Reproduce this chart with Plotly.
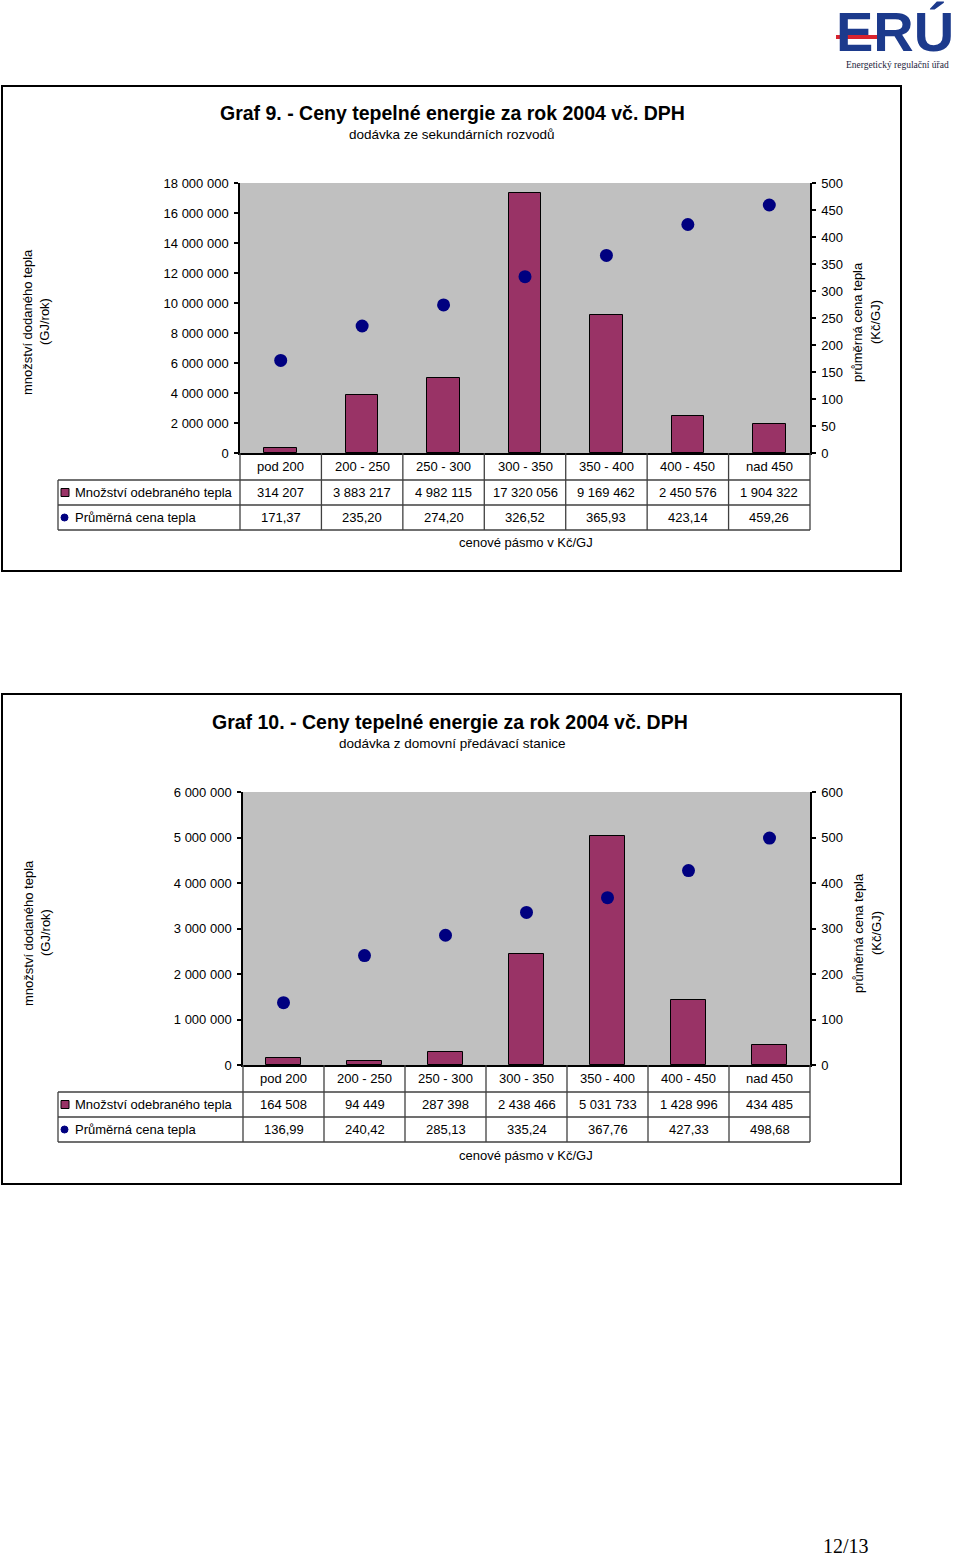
import plotly.graph_objects as go

# ---------------- data ----------------
categories = ["pod 200", "200 - 250", "250 - 300", "300 - 350", "350 - 400", "400 - 450", "nad 450"]
qty_g9 = [314207, 3883217, 4982115, 17320056, 9169462, 2450576, 1904322]
price_g9 = [171.37, 235.20, 274.20, 326.52, 365.93, 423.14, 459.26]
qty_g10 = [164508, 94449, 287398, 2438466, 5031733, 1428996, 434485]
price_g10 = [136.99, 240.42, 285.13, 335.24, 367.76, 427.33, 498.68]

title_g9 = "Graf 9. - Ceny tepelné energie za rok 2004 vč. DPH"
sub_g9 = "dodávka ze sekundárních rozvodů"
title_g10 = "Graf 10. - Ceny tepelné energie za rok 2004 vč. DPH"
sub_g10 = "dodávka z domovní předávací stanice"
row_qty = "Množství odebraného tepla"
row_price = "Průměrná cena tepla"
xlab = "cenové pásmo v Kč/GJ"
ylab_left = ["množství dodaného tepla", "(GJ/rok)"]
ylab_right = ["průměrná cena tepla", "(Kč/GJ)"]

W, H = 960, 1560
FONT = "Liberation Sans, Arial, sans-serif"
BAR = "#993366"
DOT = "#000080"
GRID = "#404040"


def px(x):
    return x / W


def py(y):
    return 1 - y / H


def fmt_int(v):
    return f"{v:,}".replace(",", " ")


def fmt_dec(v):
    return f"{v:.2f}".replace(".", ",")


fig = go.Figure()
shapes = []
ann = []

charts = [
    dict(qty=qty_g9, price=price_g9, title=title_g9, sub=sub_g9, xa="x", ya="y", ya2="y2",
         box=(2, 86, 901, 571), plot=(240, 183, 810, 453), ymax=18000000, ydt=2000000,
         y2max=500, y2dt=50, rows=(453, 480, 505, 530), title_y=113, sub_y=134, xl_y=542,
         title_x=452, ylab_y=322, bw=0.40),
    dict(qty=qty_g10, price=price_g10, title=title_g10, sub=sub_g10, xa="x2", ya="y3", ya2="y4",
         box=(2, 694, 901, 1184), plot=(243, 792, 810, 1065), ymax=6000000, ydt=1000000,
         y2max=600, y2dt=100, rows=(1065, 1092, 1117, 1142), title_y=722, sub_y=743, xl_y=1155,
         title_x=450, ylab_y=933, bw=0.42),
]

layout_axes = {}
for i, c in enumerate(charts):
    xa, ya, ya2 = c["xa"], c["ya"], c["ya2"]
    fig.add_trace(go.Bar(x=categories, y=c["qty"], xaxis=xa, yaxis=ya, width=c["bw"],
                         marker=dict(color=BAR, line=dict(color="black", width=1)),
                         showlegend=False))
    fig.add_trace(go.Scatter(x=categories, y=c["price"], xaxis=xa, yaxis=ya2, mode="markers",
                             marker=dict(color=DOT, size=13), showlegend=False))
    x0, y0, x1, y1 = c["plot"]
    xname = "xaxis" if xa == "x" else "xaxis" + xa[1:]
    yname = "yaxis" if ya == "y" else "yaxis" + ya[1:]
    y2name = "yaxis" + ya2[1:]
    layout_axes[xname] = dict(domain=[px(x0), px(x1)], anchor=ya, type="category",
                              range=[-0.5, 6.5], showticklabels=False, ticks="",
                              showline=True, linecolor="black", linewidth=1.5, showgrid=False,
                              zeroline=False, fixedrange=True, automargin=False)
    layout_axes[yname] = dict(domain=[py(y1), py(y0)], anchor=xa, range=[0, c["ymax"]],
                              dtick=c["ydt"], tick0=0, tickformat=",d", showgrid=False,
                              zeroline=False, showline=True, linecolor="black", linewidth=1.5,
                              ticks="outside", ticklen=4, tickwidth=1.5, tickcolor="black",
                              ticklabelstandoff=3, automargin=False,
                              tickfont=dict(family=FONT, size=13, color="black"))
    layout_axes[y2name] = dict(domain=[py(y1), py(y0)], anchor=xa, overlaying=ya, side="right",
                               range=[0, c["y2max"]], dtick=c["y2dt"], tick0=0, showgrid=False,
                               zeroline=False, showline=True, linecolor="black", linewidth=1.5,
                               ticks="outside", ticklen=4, tickwidth=1.5, tickcolor="black",
                               ticklabelstandoff=3, automargin=False,
                               tickfont=dict(family=FONT, size=13, color="black"))
    # gray plot background
    shapes.append(dict(type="rect", xref="paper", yref="paper", x0=px(x0), x1=px(x1),
                       y0=py(y1), y1=py(y0), fillcolor="#C0C0C0", line=dict(width=0),
                       layer="below"))
    # outer chart border
    bx0, by0, bx1, by1 = c["box"]
    shapes.append(dict(type="rect", xref="paper", yref="paper", x0=px(bx0), x1=px(bx1),
                       y0=py(by1), y1=py(by0), line=dict(color="black", width=2)))
    # data table grid
    r0, r1, r2, r3 = c["rows"]
    cw = (x1 - x0) / len(categories)
    for k in range(len(categories) + 1):
        xx = x0 + k * cw
        shapes.append(dict(type="line", xref="paper", yref="paper", x0=px(xx), x1=px(xx),
                           y0=py(r0), y1=py(r3), line=dict(color=GRID, width=1.3)))
    for yy in (r1, r2, r3):
        shapes.append(dict(type="line", xref="paper", yref="paper", x0=px(58), x1=px(x1),
                           y0=py(yy), y1=py(yy), line=dict(color=GRID, width=1.3)))
    shapes.append(dict(type="line", xref="paper", yref="paper", x0=px(58), x1=px(58),
                       y0=py(r1), y1=py(r3), line=dict(color=GRID, width=1.3)))
    # legend keys
    m1 = (r1 + r2) / 2
    m2 = (r2 + r3) / 2
    shapes.append(dict(type="rect", xref="paper", yref="paper", x0=px(61), x1=px(69),
                       y0=py(m1 + 4), y1=py(m1 - 4), fillcolor=BAR,
                       line=dict(color="black", width=1)))
    shapes.append(dict(type="circle", xref="paper", yref="paper", x0=px(61), x1=px(68),
                       y0=py(m2 + 3.5), y1=py(m2 - 3.5), fillcolor=DOT,
                       line=dict(color=DOT, width=1)))
    tf = dict(family=FONT, size=13, color="black")
    ann.append(dict(x=px(73), y=py(m1), xref="paper", yref="paper", text=row_qty,
                    xanchor="left", yanchor="middle", showarrow=False, font=tf))
    ann.append(dict(x=px(73), y=py(m2), xref="paper", yref="paper", text=row_price,
                    xanchor="left", yanchor="middle", showarrow=False, font=tf))
    for cat, q, p in zip(categories, c["qty"], c["price"]):
        ann.append(dict(x=cat, xref=xa, y=py((r0 + r1) / 2), yref="paper", text=cat,
                        showarrow=False, yanchor="middle", font=tf))
        ann.append(dict(x=cat, xref=xa, y=py(m1), yref="paper", text=fmt_int(q),
                        showarrow=False, yanchor="middle", font=tf))
        ann.append(dict(x=cat, xref=xa, y=py(m2), yref="paper", text=fmt_dec(p),
                        showarrow=False, yanchor="middle", font=tf))
    # titles
    ann.append(dict(x=px(c["title_x"]), y=py(c["title_y"]), xref="paper", yref="paper",
                    text="<b>" + c["title"] + "</b>", showarrow=False, yanchor="middle",
                    font=dict(family=FONT, size=19.5, color="black")))
    ann.append(dict(x=px(452), y=py(c["sub_y"]), xref="paper", yref="paper",
                    text=c["sub"], showarrow=False, yanchor="middle",
                    font=dict(family=FONT, size=13.5, color="black")))
    ann.append(dict(x=px(526), y=py(c["xl_y"]), xref="paper", yref="paper",
                    text=xlab, showarrow=False, yanchor="middle", font=tf))
    # axis titles
    for txt, xx in zip(ylab_left, (28, 45)):
        ann.append(dict(x=px(xx), y=py(c["ylab_y"]), xref="paper", yref="paper", text=txt,
                        textangle=-90, showarrow=False, xanchor="center", yanchor="middle",
                        font=tf))
    for txt, xx in zip(ylab_right, (858, 876)):
        ann.append(dict(x=px(xx), y=py(c["ylab_y"]), xref="paper", yref="paper", text=txt,
                        textangle=-90, showarrow=False, xanchor="center", yanchor="middle",
                        font=tf))

# logo
ann.append(dict(x=px(895), y=py(31), xref="paper", yref="paper", text="<b>ERÚ</b>",
                showarrow=False, xanchor="center", yanchor="middle",
                font=dict(family="Liberation Sans, Arial", size=56, color="#1C3A8C")))
shapes.append(dict(type="line", xref="paper", yref="paper", x0=px(836), x1=px(878),
                   y0=py(37), y1=py(37), line=dict(color="#D9232E", width=4)))
ann.append(dict(x=px(897), y=py(65), xref="paper", yref="paper",
                text="Energetický regulační úřad", showarrow=False, xanchor="center",
                yanchor="middle", font=dict(family="Liberation Serif, Times New Roman", size=9.5,
                                            color="#1C1C3C")))
# page number
ann.append(dict(x=px(846), y=py(1546), xref="paper", yref="paper", text="12/13",
                showarrow=False, xanchor="center", yanchor="middle",
                font=dict(family="Liberation Serif, Times New Roman", size=20, color="black")))

fig.update_layout(width=W, height=H, autosize=False,
                  margin=dict(l=0, r=0, t=0, b=0, pad=0, autoexpand=False),
                  paper_bgcolor="white", plot_bgcolor="rgba(0,0,0,0)", separators=", ",
                  bargap=0, shapes=shapes, annotations=ann, showlegend=False,
                  **layout_axes)
fig.write_html("out.html", config={"displayModeBar": False},
               post_script="document.body.style.margin='0';document.body.style.overflow='hidden';")
